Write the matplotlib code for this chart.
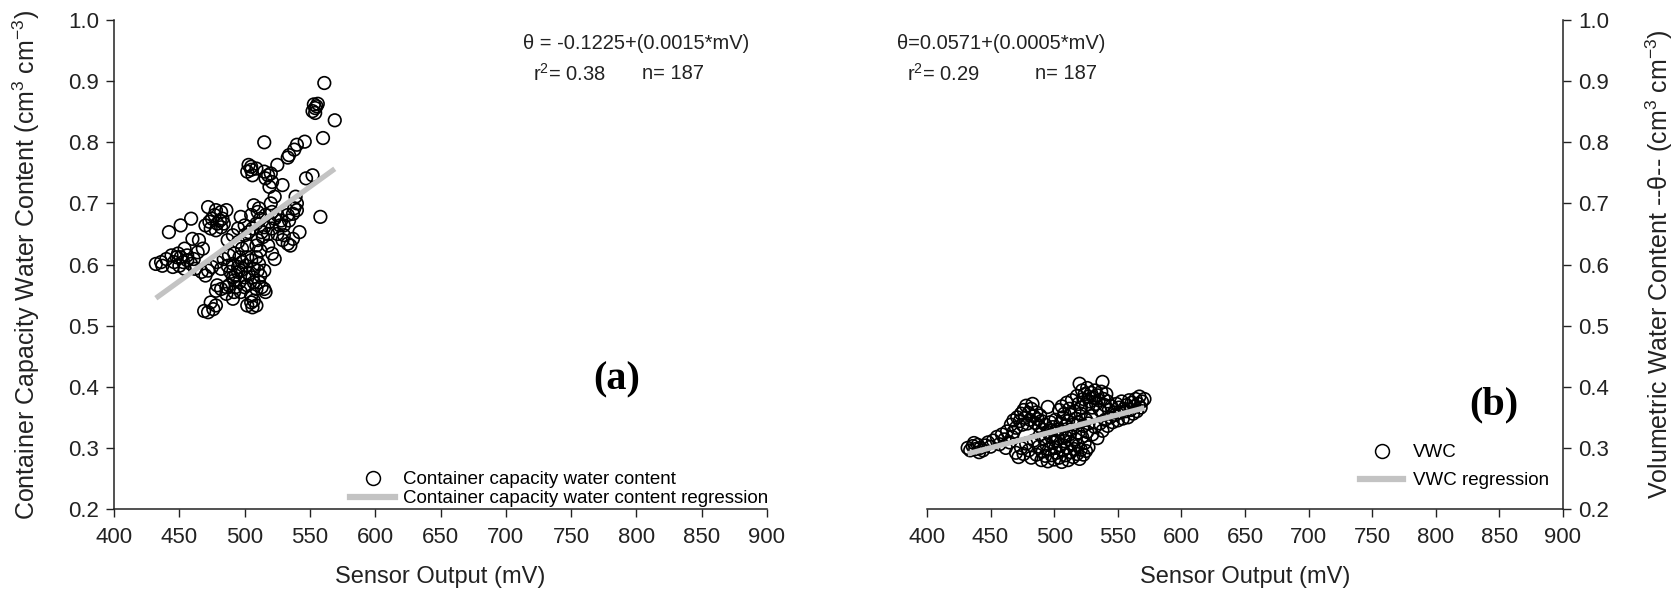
import matplotlib
matplotlib.use("Agg")
import matplotlib.pyplot as plt
from matplotlib.lines import Line2D
from matplotlib.ticker import FormatStrFormatter
import numpy as np

plt.rcParams['font.family'] = ['Liberation Sans', 'DejaVu Sans']
plt.rcParams['mathtext.fontset'] = 'custom'
plt.rcParams['mathtext.rm'] = 'Liberation Sans'
plt.rcParams['mathtext.it'] = 'Liberation Sans:italic'

# ---- panel (a): container capacity water content vs sensor output ----
cc_mv = [
    561, 553, 554, 556, 552, 554, 569, 560, 515, 546,
    540, 538, 534, 533, 525, 503, 505, 502, 506, 509,
    515, 520, 516, 521, 529, 519, 547, 552, 539, 540,
    538, 523, 520, 558, 507, 510, 505, 512, 509, 515,
    519, 523, 525, 528, 530, 533, 537, 540, 472, 478,
    482, 486, 475, 479, 483, 470, 474, 478, 482, 459,
    451, 442, 460, 465, 497, 500, 495, 491, 487, 495,
    500, 503, 502, 498, 542, 537, 533, 535, 530, 525,
    521, 518, 514, 510, 509, 512, 518, 521, 432, 436,
    440, 444, 449, 454, 451, 456, 446, 450, 454, 459,
    461, 464, 468, 467, 472, 475, 479, 484, 488, 492,
    496, 482, 487, 491, 470, 489, 493, 497, 501, 505,
    509, 492, 496, 500, 503, 507, 511, 488, 493, 497,
    502, 507, 512, 515, 509, 505, 515, 516, 469, 472,
    478, 474, 478, 482, 486, 491, 502, 505, 507, 509,
    523, 448, 453, 445, 456, 437, 462, 495, 498, 502,
    491, 495, 500, 506, 510, 492, 511, 477, 481, 473,
    484, 511, 516, 521, 527, 534, 513, 506, 529, 505,
    518, 555, 506, 476, 486, 479, 513,
]
cc_theta = [
    0.897, 0.862, 0.856, 0.863, 0.851, 0.848, 0.836, 0.807, 0.800, 0.801,
    0.796, 0.788, 0.779, 0.775, 0.763, 0.763, 0.755, 0.752, 0.746, 0.757,
    0.752, 0.749, 0.741, 0.735, 0.730, 0.727, 0.741, 0.746, 0.711, 0.700,
    0.692, 0.711, 0.700, 0.678, 0.697, 0.686, 0.681, 0.675, 0.667, 0.661,
    0.670, 0.675, 0.681, 0.672, 0.664, 0.681, 0.683, 0.689, 0.694, 0.689,
    0.686, 0.689, 0.675, 0.667, 0.675, 0.664, 0.659, 0.656, 0.661, 0.675,
    0.664, 0.653, 0.642, 0.640, 0.678, 0.664, 0.659, 0.648, 0.640, 0.637,
    0.648, 0.653, 0.631, 0.626, 0.653, 0.642, 0.634, 0.631, 0.648, 0.650,
    0.659, 0.650, 0.645, 0.640, 0.631, 0.623, 0.631, 0.618, 0.601, 0.604,
    0.609, 0.615, 0.618, 0.626, 0.612, 0.615, 0.604, 0.598, 0.593, 0.601,
    0.609, 0.620, 0.626, 0.588, 0.590, 0.596, 0.604, 0.609, 0.615, 0.618,
    0.612, 0.593, 0.598, 0.601, 0.582, 0.588, 0.582, 0.590, 0.598, 0.607,
    0.612, 0.574, 0.571, 0.579, 0.585, 0.593, 0.601, 0.566, 0.563, 0.555,
    0.566, 0.571, 0.582, 0.590, 0.560, 0.549, 0.560, 0.555, 0.524, 0.522,
    0.533, 0.538, 0.557, 0.560, 0.563, 0.544, 0.533, 0.538, 0.541, 0.533,
    0.609, 0.612, 0.604, 0.596, 0.607, 0.598, 0.593, 0.596, 0.604, 0.612,
    0.579, 0.588, 0.563, 0.579, 0.590, 0.555, 0.571, 0.681, 0.672, 0.670,
    0.667, 0.692, 0.681, 0.686, 0.664, 0.672, 0.653, 0.659, 0.640, 0.760,
    0.746, 0.859, 0.530, 0.527, 0.552, 0.566, 0.563,
]

# ---- panel (b): volumetric water content vs sensor output ----
vwc_mv = [
    432, 434, 436, 438, 440, 442, 444, 437, 446, 448,
    450, 441, 452, 455, 457, 459, 461, 463, 465, 467,
    462, 468, 466, 468, 470, 471, 473, 474, 475, 476,
    477, 478, 479, 480, 481, 482, 483, 484, 485, 486,
    487, 488, 489, 490, 495, 470, 472, 474, 476, 478,
    480, 482, 484, 486, 488, 490, 491, 492, 493, 494,
    495, 496, 497, 498, 499, 500, 501, 502, 503, 504,
    505, 506, 507, 508, 509, 510, 511, 512, 513, 514,
    515, 516, 517, 518, 519, 520, 521, 522, 523, 524,
    525, 526, 527, 506, 498, 489, 513, 519, 501, 509,
    491, 493, 495, 497, 499, 501, 503, 505, 507, 509,
    511, 513, 515, 517, 519, 521, 523, 525, 527, 529,
    504, 506, 508, 510, 512, 514, 516, 518, 519, 520,
    521, 522, 523, 524, 525, 526, 527, 528, 529, 530,
    531, 532, 533, 534, 535, 536, 537, 538, 539, 540,
    541, 542, 530, 532, 534, 536, 538, 540, 542, 544,
    546, 548, 550, 552, 554, 556, 558, 543, 545, 547,
    549, 551, 553, 555, 557, 559, 560, 561, 562, 563,
    564, 565, 566, 567, 568, 569, 571,
]
vwc_theta = [
    0.300, 0.296, 0.303, 0.298, 0.305, 0.300, 0.296, 0.308, 0.304, 0.309,
    0.302, 0.293, 0.312, 0.318, 0.306, 0.322, 0.314, 0.327, 0.309, 0.318,
    0.300, 0.326, 0.338, 0.345, 0.333, 0.350, 0.344, 0.356, 0.338, 0.362,
    0.349, 0.369, 0.340, 0.357, 0.346, 0.364, 0.372, 0.352, 0.341, 0.358,
    0.347, 0.336, 0.353, 0.344, 0.367, 0.292, 0.285, 0.300, 0.290, 0.307,
    0.296, 0.284, 0.312, 0.289, 0.302, 0.280, 0.294, 0.315, 0.287, 0.305,
    0.278, 0.298, 0.320, 0.288, 0.309, 0.281, 0.300, 0.292, 0.316, 0.284,
    0.304, 0.277, 0.296, 0.311, 0.288, 0.300, 0.280, 0.322, 0.293, 0.307,
    0.285, 0.298, 0.314, 0.290, 0.304, 0.282, 0.297, 0.318, 0.289, 0.308,
    0.295, 0.326, 0.301, 0.326, 0.329, 0.322, 0.330, 0.325, 0.312, 0.318,
    0.330, 0.338, 0.326, 0.342, 0.334, 0.346, 0.330, 0.340, 0.350, 0.336,
    0.344, 0.354, 0.338, 0.348, 0.342, 0.356, 0.336, 0.346, 0.340, 0.352,
    0.362, 0.368, 0.356, 0.374, 0.364, 0.378, 0.360, 0.385, 0.372, 0.405,
    0.366, 0.394, 0.380, 0.388, 0.370, 0.398, 0.384, 0.376, 0.390, 0.366,
    0.382, 0.394, 0.372, 0.386, 0.378, 0.362, 0.392, 0.408, 0.380, 0.370,
    0.388, 0.376, 0.322, 0.334, 0.316, 0.340, 0.328, 0.346, 0.336, 0.350,
    0.342, 0.354, 0.345, 0.358, 0.348, 0.360, 0.350, 0.362, 0.368, 0.358,
    0.372, 0.366, 0.376, 0.364, 0.370, 0.378, 0.362, 0.374, 0.356, 0.368,
    0.380, 0.360, 0.372, 0.384, 0.366, 0.376, 0.380,
]

# regression coefficients (printed rounded to four decimals)
cc_intercept, cc_slope, cc_r2 = -0.1225, 0.001545, 0.38
vwc_intercept, vwc_slope, vwc_r2 = 0.0571, 0.00054, 0.29

x_ticks = list(range(400, 901, 50))
y_ticks = [0.2, 0.3, 0.4, 0.5, 0.6, 0.7, 0.8, 0.9, 1.0]

INK = '#222222'
LINE_GRAY = '#c3c3c3'
TICK_FS = 16
LABEL_FS = 17
YLABEL_FS = 18
LEGEND_FS = 13.5
EQ_FS = 14.5

fig = plt.figure(figsize=(16.75, 5.95), dpi=100)
ax_a = fig.add_axes([0.0681, 0.1445, 0.3898, 0.8218])
ax_b = fig.add_axes([0.5534, 0.1445, 0.3797, 0.8218])


def style_axes(ax, side):
    ax.set_xlim(400, 900)
    ax.set_ylim(0.2, 1.0)
    ax.set_xticks(x_ticks)
    ax.set_yticks(y_ticks)
    ax.yaxis.set_major_formatter(FormatStrFormatter('%.1f'))
    ax.spines['top'].set_visible(False)
    hidden = 'right' if side == 'left' else 'left'
    ax.spines[hidden].set_visible(False)
    for s in ('bottom', side):
        ax.spines[s].set_color(INK)
        ax.spines[s].set_linewidth(1.1)
    if side == 'right':
        ax.yaxis.tick_right()
        ax.yaxis.set_label_position('right')
    ax.tick_params(direction='out', length=6, width=1.0, colors=INK,
                   labelsize=TICK_FS, pad=5)
    ax.tick_params(axis='x', pad=7)
    ax.set_xlabel('Sensor Output (mV)', fontsize=LABEL_FS, color=INK,
                  va='center')
    ax.xaxis.set_label_coords(0.5, -0.139)


def draw_panel(ax, mv, theta, intercept, slope, pt_label, line_label):
    ax.scatter(mv, theta, s=82, facecolors='none', edgecolors='black',
               linewidths=1.2, zorder=3)
    xs = np.array([min(mv), max(mv)])
    ax.plot(xs, intercept + slope * xs, color=LINE_GRAY, lw=3.8,
            solid_capstyle='butt', zorder=4)
    handles = [
        Line2D([], [], ls='none', marker='o', markersize=10,
               markerfacecolor='none', markeredgecolor='black',
               markeredgewidth=1.1),
        Line2D([], [], color=LINE_GRAY, lw=4.5),
    ]
    return handles, [pt_label, line_label]


style_axes(ax_a, 'left')
style_axes(ax_b, 'right')

ax_a.set_ylabel('Container Capacity Water Content (cm$^3$ cm$^{-3}$)',
                fontsize=YLABEL_FS, color=INK)
ax_a.yaxis.set_label_coords(-0.11, 0.5)
ax_b.set_ylabel('Volumetric Water Content --\u03b8-- (cm$^3$ cm$^{-3}$)',
                fontsize=YLABEL_FS, color=INK, rotation=90)
ax_b.yaxis.set_label_coords(1.127, 0.5)

h_a, l_a = draw_panel(ax_a, cc_mv, cc_theta, cc_intercept, cc_slope,
                      'Container capacity water content',
                      'Container capacity water content regression')
h_b, l_b = draw_panel(ax_b, vwc_mv, vwc_theta, vwc_intercept, vwc_slope,
                      'VWC', 'VWC regression')

ax_a.legend(h_a, l_a, loc='lower left', bbox_to_anchor=(0.362, 0.004),
            frameon=False, fontsize=LEGEND_FS, handlelength=2.4,
            handletextpad=0.4, labelspacing=0.1, borderpad=0,
            borderaxespad=0)
ax_b.legend(h_b, l_b, loc='lower left', bbox_to_anchor=(0.681, 0.040),
            frameon=False, fontsize=LEGEND_FS, handlelength=2.3,
            handletextpad=0.5, labelspacing=0.6, borderpad=0,
            borderaxespad=0)


def annotate(ax, intercept, slope, r2, n, eq_x, r2_x, n_x, compact):
    if compact:
        eq = f'\u03b8={intercept:.4f}+({slope:.4f}*mV)'
    else:
        eq = f'\u03b8 = {intercept:.4f}+({slope:.4f}*mV)'
    ax.text(eq_x, 0.962, eq, ha='center', va='center', fontsize=EQ_FS,
            color=INK, clip_on=False)
    ax.text(r2_x, 0.912, f'r$^2$= {r2:.2f}', ha='center', va='center',
            fontsize=EQ_FS, color=INK, clip_on=False)
    ax.text(n_x, 0.912, f'n= {n}', ha='center', va='center',
            fontsize=EQ_FS, color=INK, clip_on=False)


annotate(ax_a, cc_intercept, cc_slope, cc_r2, len(cc_mv), 800, 749, 828, False)
annotate(ax_b, vwc_intercept, vwc_slope, vwc_r2, len(vwc_mv), 458, 413, 509, True)

ax_a.text(785, 0.411, '(a)', ha='center', va='center', fontsize=29,
          fontweight='bold', family='Liberation Serif', color='black')
ax_b.text(846, 0.37, '(b)', ha='center', va='center', fontsize=29,
          fontweight='bold', family='Liberation Serif', color='black')

fig.savefig('out.png', dpi=100, facecolor='white')
